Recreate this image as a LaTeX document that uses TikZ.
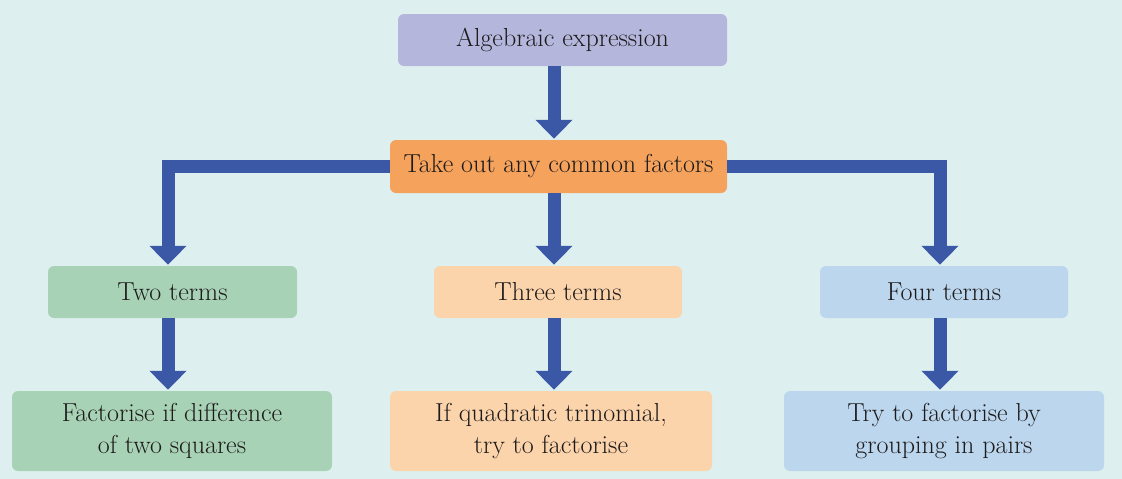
\documentclass[tikz,border=0pt]{standalone}
\usetikzlibrary{arrows.meta}
\definecolor{bgc}{RGB}{221,240,239}
\definecolor{lav}{RGB}{180,182,220}
\definecolor{org}{RGB}{245,162,92}
\definecolor{grn}{RGB}{168,210,182}
\definecolor{pch}{RGB}{252,212,172}
\definecolor{lbl}{RGB}{188,214,238}
\definecolor{arrc}{RGB}{59,88,166}
\definecolor{txt}{RGB}{28,26,26}
\tikzset{
  box/.style={rounded corners=6pt, inner sep=0pt, align=center, text=txt,
    font=\fontsize{26}{32}\selectfont},
  arr/.style={draw=arrc, line width=13pt, -{Triangle[width=36pt,length=19pt]}}
}
\begin{document}
\begin{tikzpicture}[x=1pt,y=-1pt]
\fill[bgc] (0,0) rectangle (1122,479);
\useasboundingbox (0,0) rectangle (1122,479);
\node[box, fill=lav, minimum width=329pt, minimum height=52pt] (alg) at (562.5,40) {Algebraic expression};
\node[box, fill=org, minimum width=337pt, minimum height=53pt] (take) at (558.5,166.5) {Take out any common factors};
\node[box, fill=grn, minimum width=249pt, minimum height=52pt] (two) at (172.5,292) {Two terms};
\node[box, fill=pch, minimum width=248pt, minimum height=52pt] (three) at (558,292) {Three terms};
\node[box, fill=lbl, minimum width=248pt, minimum height=52pt] (four) at (944,292) {Four terms};
\node[box, fill=grn, minimum width=320pt, minimum height=80pt] (fac) at (172,431) {Factorise if difference\\of two squares};
\node[box, fill=pch, minimum width=322pt, minimum height=80pt] (quad) at (551,431) {If quadratic trinomial,\\try to factorise};
\node[box, fill=lbl, minimum width=320pt, minimum height=80pt] (try) at (944,431) {Try to factorise by\\grouping in pairs};
\draw[arr] ([xshift=-8.5pt]alg.south) -- ([xshift=-4.5pt,yshift=1pt]take.north);
\draw[arr] ([xshift=-4.5pt]take.south) -- ([xshift=-4pt,yshift=1pt]three.north);
\draw[arr] (take.west) -| ([xshift=-4.5pt,yshift=1pt]two.north);
\draw[arr] (take.east) -| ([xshift=-4pt,yshift=1pt]four.north);
\draw[arr] ([xshift=-4.5pt]two.south) -- ([xshift=-4pt,yshift=1pt]fac.north);
\draw[arr] ([xshift=-4pt]three.south) -- ([xshift=3pt,yshift=1pt]quad.north);
\draw[arr] ([xshift=-4pt]four.south) -- ([xshift=-4pt,yshift=1pt]try.north);
\end{tikzpicture}
\end{document}
